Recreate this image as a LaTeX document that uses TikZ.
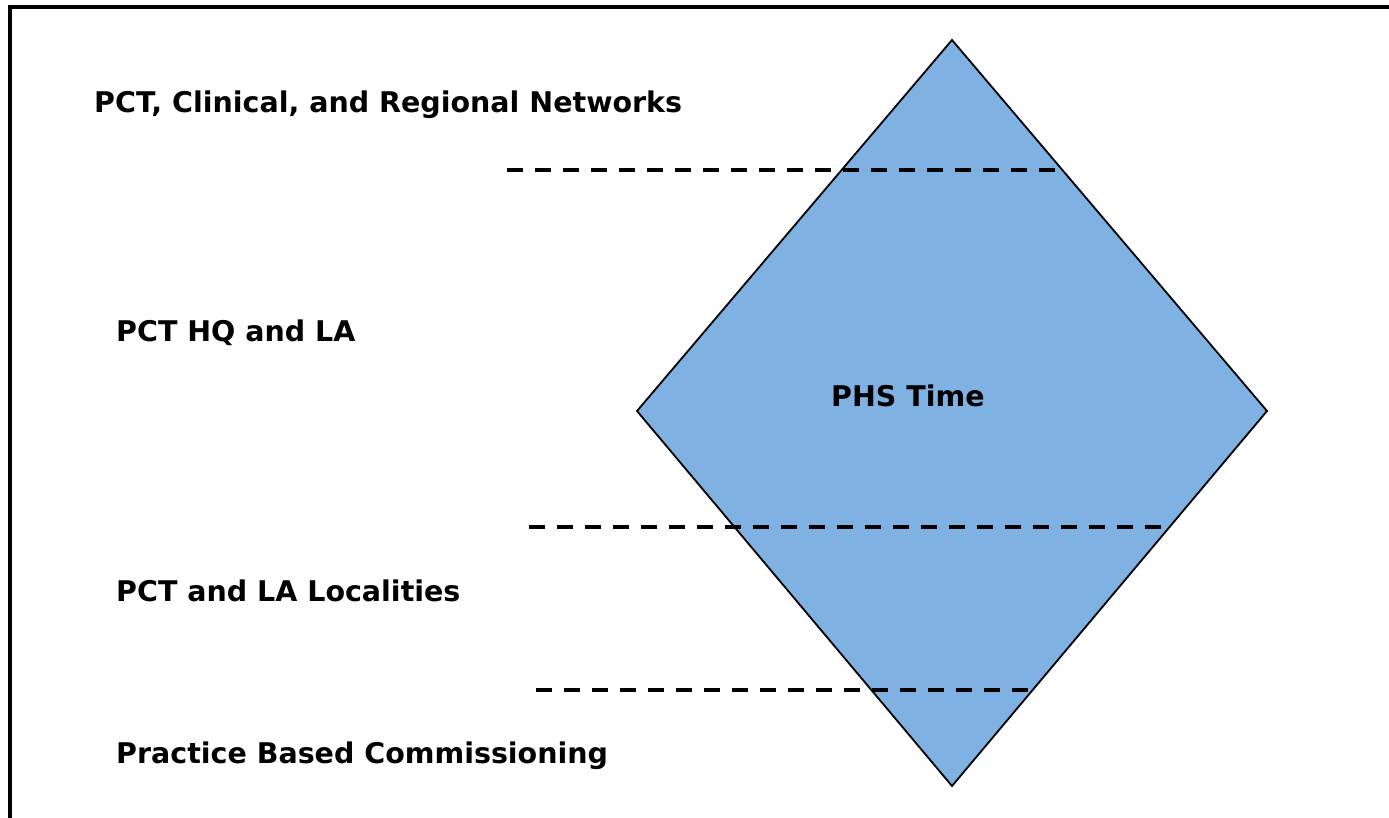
\documentclass[tikz,border=0pt]{standalone}
\usepackage{fontspec}
\setmainfont{DejaVu Sans}
\usepackage{tikz}

\definecolor{phsblue}{HTML}{7FB1E3}

\tikzset{
  levellabel/.style={anchor=base west,font=\fontsize{28.5}{32}\selectfont\bfseries,inner sep=0pt},
  levelline/.style={line width=4pt,dash pattern=on 16pt off 12pt}
}

\begin{document}
\begin{tikzpicture}[x=1pt,y=-1pt]
    \useasboundingbox (0,0) rectangle (1389,818);
    % Frame (only top and left edges inside the page)
    \draw[line width=4.5pt] (10,818) -- (10,7) -- (1389,7);
    % Diamond
    \coordinate (top) at (952,40);
    \coordinate (right) at (1267,411);
    \coordinate (bottom) at (952,786);
    \coordinate (left) at (637,411);
    \draw[fill=phsblue,line width=1.8pt] (top) -- (right) -- (bottom) -- (left) -- cycle;
    \node[levellabel] (phs) at (831,406) {PHS Time};
    % Level boundaries
    \foreach \n/\xa/\xb/\y in {a/507/1056/170, b/529/1164/527, c/536/1032/690} {
      \coordinate (\n start) at (\xa,\y);
      \coordinate (\n end) at (\xb,\y);
      \draw[levelline] (\n start) -- (\n end);
    }
    % Level names
    \node[levellabel] (networks) at (94,113) {PCT, Clinical, and Regional Networks};
    \node[levellabel] (hq) at (116,341) {PCT HQ and LA};
    \node[levellabel] (localities) at (116,601) {PCT and LA Localities};
    \node[levellabel] (practice) at (116,763) {Practice Based Commissioning};
\end{tikzpicture}
\end{document}
